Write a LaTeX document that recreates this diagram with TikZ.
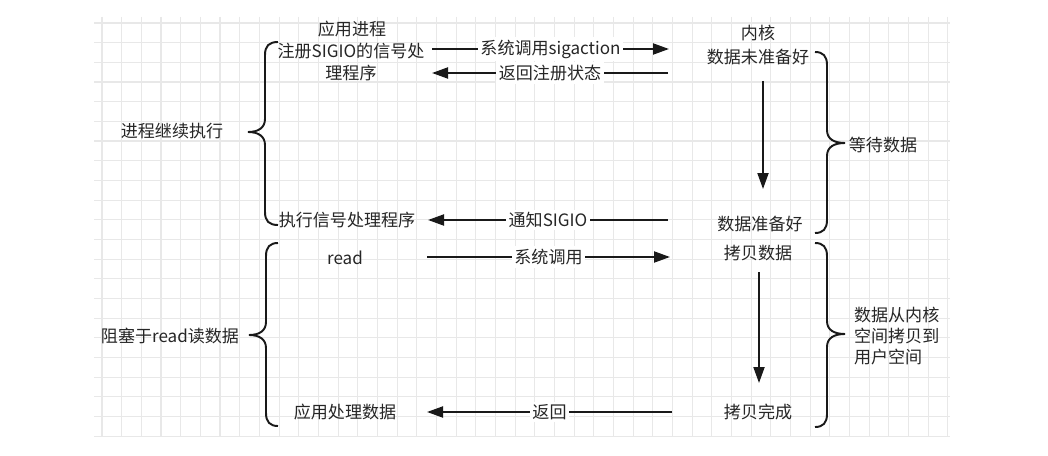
\documentclass[tikz,border=0pt]{standalone}
\usepackage{fontspec}
\usepackage{tikz}
\usetikzlibrary{arrows.meta,positioning}
\newfontfamily\cjkfont{Noto Sans CJK SC}

\begin{document}
\begin{tikzpicture}[
    x=0.02cm, y=-0.02cm,
    every node/.style={font=\cjkfont\fontsize{9.7pt}{12pt}\selectfont, text=black!85, inner sep=1pt},
    gridline/.style={draw=black!9, line width=0.6pt},
    flow/.style={-{Triangle[length=0.32cm, width=0.22cm]}, line width=1.1pt, draw=black!90},
    flowlabel/.style={fill=white, inner sep=1.5pt},
    bracket/.style={line width=1.1pt, draw=black!90},
    stepnote/.style={align=center}
]
\useasboundingbox (0,0) rectangle (1048,456);
\fill[white] (0,0) rectangle (1048,456);

% background grid
\foreach \i in {0,...,43}
    \draw[gridline] (102+19.67*\i,17) -- (102+19.67*\i,436);
\foreach \j in {0,...,21}
    \draw[gridline] (94,23+19.67*\j) -- (950,23+19.67*\j);

% application side
\node (apphead) at (352,29) {应用进程};
\node[stepnote] (register) at (351,62) {注册SIGIO的信号处\\理程序};
\node (handler) at (347,220) {执行信号处理程序};
\node (read) at (345,258) {read};
\node (process) at (345,412) {应用处理数据};

% kernel side
\node (kernhead) at (758,33) {内核};
\node (notready) at (758,57) {数据未准备好};
\node (ready) at (760,224) {数据准备好};
\node (copy) at (758,253) {拷贝数据};
\node (copied) at (758,412) {拷贝完成};

% phase notes
\node (cont) at (172,131) {进程继续执行};
\node (block) at (170,336) {阻塞于read读数据};
\node (waitdata) at (883,145) {等待数据};
\node[anchor=west, align=left] (copynote) at (852,336) {数据从内核\\空间拷贝到\\用户空间};

% arrow ends
\coordinate (sigA) at (432,49);
\coordinate (sigB) at (669,49);
\coordinate (retA) at (432,73);
\coordinate (retB) at (668,73);
\coordinate (ntfA) at (428,220);
\coordinate (ntfB) at (668,220);
\coordinate (rdA) at (427,257);
\coordinate (rdB) at (670,257);
\coordinate (backA) at (427,412);
\coordinate (backB) at (672,412);
\coordinate (waitTop) at (763,81);
\coordinate (waitBot) at (763,189);
\coordinate (copyTop) at (759,272);
\coordinate (copyBot) at (759,383);

\draw[flow] (sigA) -- node[flowlabel] {系统调用sigaction} (sigB);
\draw[flow] (retB) -- node[flowlabel] {返回注册状态} (retA);
\draw[flow] (ntfB) -- node[flowlabel] {通知SIGIO} (ntfA);
\draw[flow] (rdA) -- node[flowlabel] {系统调用} (rdB);
\draw[flow] (backB) -- node[flowlabel] {返回} (backA);
\draw[flow] (waitTop) -- (waitBot);
\draw[flow] (copyTop) -- (copyBot);

% brackets
\draw[bracket] (278,42) .. controls (269,42) and (265,46) .. (265,55) -- (265,119)
    .. controls (265,128) and (258,132) .. (248,132) .. controls (258,132) and (265,136) .. (265,145)
    -- (265,212) .. controls (265,221) and (269,225) .. (278,225);
\draw[bracket] (278,243) .. controls (270,243) and (266,247) .. (266,256) -- (266,322)
    .. controls (266,331) and (259,335) .. (249,335) .. controls (259,335) and (266,339) .. (266,348)
    -- (266,413) .. controls (266,422) and (270,426) .. (278,426);
\draw[bracket] (815,52) .. controls (823,52) and (827,56) .. (827,65) -- (827,130)
    .. controls (827,139) and (834,143) .. (845,143) .. controls (834,143) and (827,147) .. (827,156)
    -- (827,220) .. controls (827,229) and (823,233) .. (815,233);
\draw[bracket] (815,243) .. controls (823,243) and (827,247) .. (827,256) -- (827,321)
    .. controls (827,330) and (834,334) .. (845,334) .. controls (834,334) and (827,338) .. (827,347)
    -- (827,414) .. controls (827,423) and (823,427) .. (815,427);
\end{tikzpicture}
\end{document}
